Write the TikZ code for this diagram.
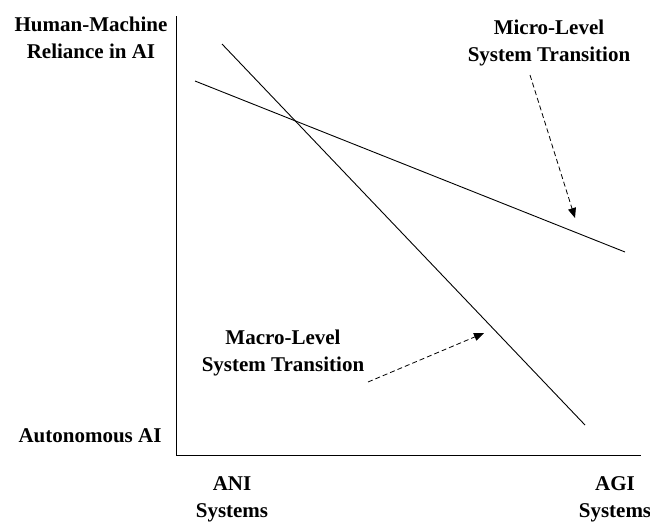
\documentclass[tikz,border=0pt]{standalone}
\usepackage{fontspec}
\setmainfont{Liberation Serif}
\usetikzlibrary{arrows.meta}

\begin{document}
\begin{tikzpicture}[x=1pt,y=-1pt,
    label/.style={align=center,font=\fontsize{21}{27}\selectfont\bfseries,inner sep=0pt},
    trend/.style={line width=0.9pt},
    pointer/.style={line width=0.8pt,dash pattern=on 5pt off 3pt,-{Triangle[length=10pt,width=8pt]}}]
\useasboundingbox (0,0) rectangle (650,523);

% Define the corners of the axes
\coordinate (O) at (176,455);
\coordinate (Ytop) at (176,16);
\coordinate (Xend) at (641,455);

% Draw the axes
\draw[trend] (Ytop) -- (O) -- (Xend);

% Define the end points of the two lines
\coordinate (M1) at (222,44);
\coordinate (M2) at (585,425);
\coordinate (S1) at (195,81);
\coordinate (S2) at (625,252);

% Draw the two lines
\draw[trend] (M1) -- (M2);
\draw[trend] (S1) -- (S2);

% Axis labels
\node[label] (yhigh) at (91,38) {Human-Machine\\Reliance in AI};
\node[label] (ylow) at (90,436) {Autonomous AI};
\node[label] (ani) at (232,499) {ANI\\Systems};
\node[label] (agi) at (615,499) {AGI\\Systems};

% Transition labels
\node[label] (micro) at (549,43) {Micro-Level\\System Transition};
\node[label] (macro) at (283,353) {Macro-Level\\System Transition};

% Draw the pointers
\coordinate (microstart) at (530,75);
\coordinate (microtip) at (575,218);
\coordinate (macrostart) at (368,382);
\coordinate (macrotip) at (484,333);
\draw[pointer] (microstart) -- (microtip);
\draw[pointer] (macrostart) -- (macrotip);
\end{tikzpicture}
\end{document}
